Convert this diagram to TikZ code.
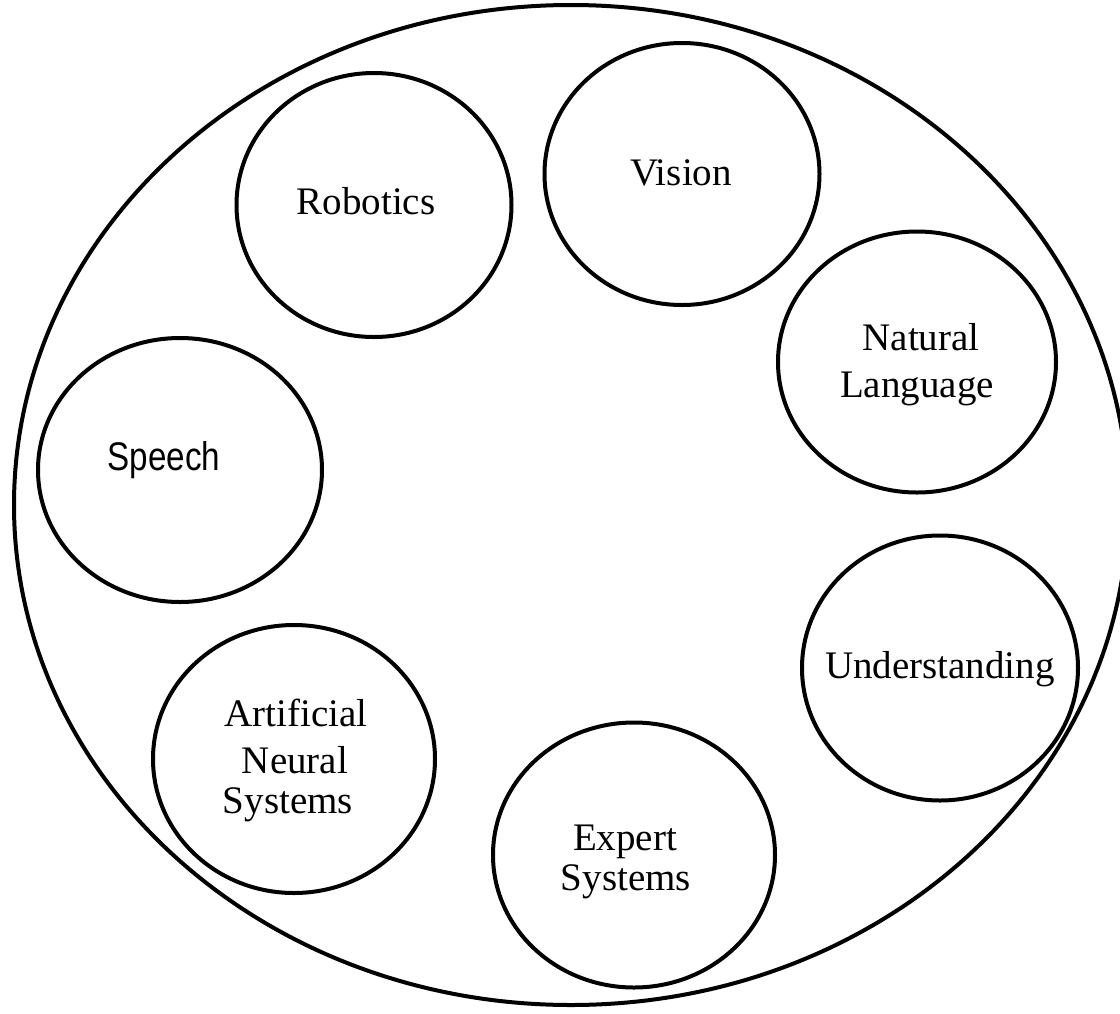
\documentclass[tikz,border=0pt]{standalone}
\usepackage{fontspec}
\setmainfont{Liberation Serif}
\newfontfamily\speechfont{Liberation Sans}
\usetikzlibrary{shapes.geometric}
\begin{document}
\begin{tikzpicture}[x=0.5pt,y=-0.5pt,
  area/.style={draw, line width=2pt, ellipse, inner sep=0pt},
  lbl/.style={anchor=base, inner sep=0pt, font=\fontsize{19.5}{22}\selectfont}]
\useasboundingbox (0,0) rectangle (1120,1013);
% outer field
\node[area, minimum width=557pt, minimum height=500pt] (field) at (571,505) {};
% sub-fields
\node[area, minimum width=137.5pt, minimum height=132pt] (robotics) at (374,205) {};
\node[area, minimum width=137.5pt, minimum height=131pt] (vision) at (682,174) {};
\node[area, minimum width=139pt, minimum height=130.5pt] (natlang) at (917,362) {};
\node[area, minimum width=142pt, minimum height=132pt] (speech) at (180,470) {};
\node[area, minimum width=138pt, minimum height=132.5pt] (underst) at (940,668) {};
\node[area, minimum width=141pt, minimum height=134pt] (ans) at (294,759) {};
\node[area, minimum width=141pt, minimum height=132.5pt] (expert) at (634,855) {};
% labels
\node[lbl] (trob) at (366,214) {Robotics};
\node[lbl] (tvis) at (681,185) {Vision};
\node[lbl] (tnl1) at (921,350) {Natural};
\node[lbl] (tnl2) at (917,397) {Language};
\node[lbl, font=\speechfont\fontsize{20}{22}\selectfont] (tsp) at (164,470) {\scalebox{0.83}[1]{Speech}};
\node[lbl] (tund) at (940,678) {Understanding};
\node[lbl] (tans1) at (296,726) {Artificial};
\node[lbl] (tans2) at (295,773) {Neural};
\node[lbl] (tans3) at (288,813) {Systems};
\node[lbl] (tex1) at (625,850) {Expert};
\node[lbl] (tex2) at (626,890) {Systems};
\end{tikzpicture}
\end{document}
